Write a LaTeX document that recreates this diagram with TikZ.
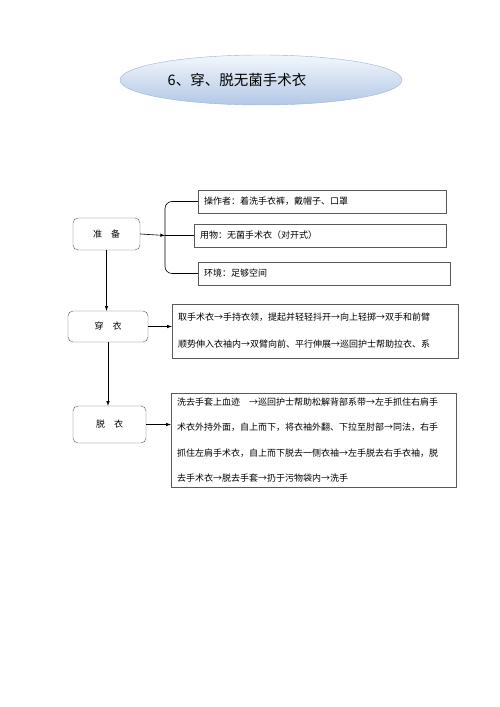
\documentclass[tikz,border=0pt]{standalone}
\usepackage{fontspec}
\setmainfont{Noto Sans CJK SC}
\usetikzlibrary{shapes, backgrounds, arrows, positioning}

\begin{document}
\begin{tikzpicture}[x=1pt,y=1pt,
  stepbox/.style={draw=drawColor,rounded corners=5pt,inner sep=0pt,font=\fontsize{9}{11}\selectfont},
  itembox/.style={draw=drawColor,inner xsep=6pt,inner ysep=0pt,align=left,font=\fontsize{9}{11}\selectfont},
  link/.style={-latex,line width=0.6pt,draw=black}]
\definecolor[named]{drawColor}{rgb}{0.35,0.35,0.35}
\definecolor[named]{topColor}{rgb}{0.95,0.97,0.99}
\definecolor[named]{bottomColor}{rgb}{0.70,0.78,0.90}
\definecolor[named]{rimColor}{rgb}{0.62,0.70,0.83}
\path[use as bounding box,fill=white] (0,0) rectangle (500,707);

\node[ellipse,draw=rimColor,top color=topColor,bottom color=bottomColor,
  minimum width=282,minimum height=50] (title) at (261,627) {};
\node[font=\fontsize{14.5}{16}\selectfont] (titletext) at (237,627) {6、穿、脱无菌手术衣};

\node[stepbox,minimum width=67,minimum height=32] (prep) at (106.5,473) {准\quad 备};
\node[stepbox,minimum width=80,minimum height=31] (wear) at (108,380.5) {穿\quad 衣};
\node[stepbox,minimum width=73,minimum height=37] (off) at (109.5,282.5) {脱\quad 衣};

\node[itembox,minimum width=248,minimum height=23,text width=236] (op) at (322,505.5)
  {操作者：着洗手衣裤，戴帽子、口罩};
\node[itembox,minimum width=252,minimum height=23,text width=240] (tool) at (320,471.5)
  {用物：无菌手术衣（对开式）};
\node[itembox,minimum width=252,minimum height=23,text width=240] (env) at (324,433.5)
  {环境：足够空间};

\node[itembox,minimum width=286,minimum height=54,text width=274,
  font=\fontsize{9}{27}\selectfont] (wearbox) at (315,376)
  {取手术衣→手持衣领，提起并轻轻抖开→向上轻掷→双手和前臂\\
   顺势伸入衣袖内→双臂向前、平行伸展→巡回护士帮助拉衣、系};
\node[itembox,minimum width=285,minimum height=94,text width=273,
  font=\fontsize{9}{25.5}\selectfont] (offbox) at (313.5,267)
  {洗去手套上血迹\quad →巡回护士帮助松解背部系带→左手抓住右肩手\\
   术衣外持外面，自上而下，将衣袖外翻、下拉至肘部→同法，右手\\
   抓住左肩手术衣，自上而下脱去一侧衣袖→左手脱去右手衣袖，脱\\
   去手术衣→脱去手套→扔于污物袋内→洗手};

\coordinate (brace) at (165,471.5);
\draw[line width=0.6pt,rounded corners=7pt] (op.west) -| (brace) |- (env.west);
\draw[line width=0.6pt] (brace) -- (tool.west);
\draw[link] (prep.east) -- (brace);

\draw[link] (prep.south) -- (prep.south |- wear.north);
\draw[link] (wear.south) -- (wear.south |- off.north);
\draw[link] (wear.east) -- (wear.east -| wearbox.west);
\draw[link] (off.east) -- (off.east -| offbox.west);
\end{tikzpicture}
\end{document}
